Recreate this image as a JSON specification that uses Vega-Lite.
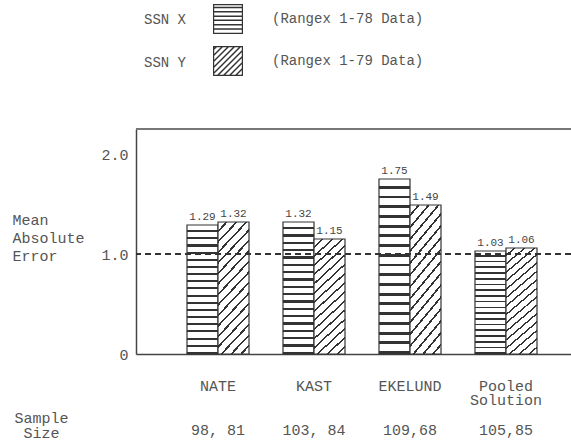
{
  "$schema": "https://vega.github.io/schema/vega-lite/v6.json",
  "width": 435,
  "height": 225,
  "autosize": "none",
  "padding": {"left": 136, "top": 129, "right": 0, "bottom": 88},
  "background": "white",
  "config": {"view": {"stroke": null}, "font": "Liberation Mono"},
  "data": {"values": [
    {"method": "NATE", "series": "SSN X", "desc": "(Rangex 1-78 Data)", "mae": 1.29},
    {"method": "NATE", "series": "SSN Y", "desc": "(Rangex 1-79 Data)", "mae": 1.32},
    {"method": "KAST", "series": "SSN X", "desc": "(Rangex 1-78 Data)", "mae": 1.32},
    {"method": "KAST", "series": "SSN Y", "desc": "(Rangex 1-79 Data)", "mae": 1.15},
    {"method": "EKELUND", "series": "SSN X", "desc": "(Rangex 1-78 Data)", "mae": 1.75},
    {"method": "EKELUND", "series": "SSN Y", "desc": "(Rangex 1-79 Data)", "mae": 1.49},
    {"method": "Pooled Solution", "series": "SSN X", "desc": "(Rangex 1-78 Data)", "mae": 1.03},
    {"method": "Pooled Solution", "series": "SSN Y", "desc": "(Rangex 1-79 Data)", "mae": 1.06}
  ]},
  "layer": [
    {
      "mark": {"type": "bar", "stroke": "#333333", "strokeWidth": 1.2},
      "encoding": {
        "x": {"field": "method", "type": "nominal", "sort": ["NATE", "KAST", "EKELUND", "Pooled Solution"],
          "scale": {"paddingInner": 0.354, "paddingOuter": 0.4427, "align": 0.6},
          "axis": {
            "title": ["Sample", "Size"], "titleX": -95, "titleY": 68, "titleAlign": "center", "titleBaseline": "alphabetic", "titleAngle": 0,
            "titleFontSize": 15, "titleFontWeight": "normal", "titleLineHeight": 15.5, "titleColor": "#555555",
            "labelAngle": 0, "labelFontSize": 15, "labelLineHeight": 14.7, "labelBaseline": "top", "labelPadding": 24, "labelColor": "#555555",
            "labelOverlap": false, "labelBound": false,
            "ticks": false, "domainColor": "#444444", "domainWidth": 1.5,
            "labelExpr": "datum.value === 'NATE' ? ['NATE', '\u200b', '\u200b', '98, 81'] : datum.value === 'KAST' ? ['KAST', '\u200b', '\u200b', '103, 84'] : datum.value === 'EKELUND' ? ['EKELUND', '\u200b', '\u200b', '109,68'] : ['Pooled', 'Solution', '\u200b', '105,85']"
          }},
        "xOffset": {"field": "series", "type": "nominal"},
        "y": {"field": "mae", "type": "quantitative", "scale": {"domain": [0, 2.25], "nice": false},
          "axis": {
            "values": [0, 1, 2], "labelExpr": "datum.value === 0 ? '0' : format(datum.value, '.1f')",
            "grid": false, "ticks": false,
            "labelFontSize": 15, "labelPadding": 8, "labelColor": "#555555",
            "domainColor": "#444444", "domainWidth": 1.5,
            "title": ["Mean", "Absolute", "Error"], "titleAngle": 0, "titleAlign": "left", "titleBaseline": "alphabetic",
            "titleX": -124, "titleY": 95, "titleFontSize": 15, "titleFontWeight": "normal", "titleLineHeight": 18, "titleColor": "#555555"
          }},
        "strokeDash": {"field": "series", "type": "nominal", "scale": {"range": [[1, 0], [1, 0]]},
          "legend": {"orient": "none", "legendX": -30, "legendY": -125, "title": null, "direction": "vertical",
            "symbolType": "square", "symbolSize": 900, "symbolOpacity": 0,
            "labelFontSize": 14, "labelOffset": 6, "rowPadding": 12, "padding": 0, "labelColor": "#555555"}},
        "fill": {
          "condition": {"test": "datum.series === 'SSN X'", "value": {"gradient": "linear", "x1": 0, "y1": 0, "x2": 0, "y2": 1, "stops": [
            {"offset": 0, "color": "#ffffff"},
            {"offset": 0.0389, "color": "#ffffff"}, {"offset": 0.0389, "color": "#333333"}, {"offset": 0.0556, "color": "#333333"}, {"offset": 0.0556, "color": "#ffffff"},
            {"offset": 0.0944, "color": "#ffffff"}, {"offset": 0.0944, "color": "#333333"}, {"offset": 0.1111, "color": "#333333"}, {"offset": 0.1111, "color": "#ffffff"},
            {"offset": 0.15, "color": "#ffffff"}, {"offset": 0.15, "color": "#333333"}, {"offset": 0.1667, "color": "#333333"}, {"offset": 0.1667, "color": "#ffffff"},
            {"offset": 0.2056, "color": "#ffffff"}, {"offset": 0.2056, "color": "#333333"}, {"offset": 0.2222, "color": "#333333"}, {"offset": 0.2222, "color": "#ffffff"},
            {"offset": 0.2611, "color": "#ffffff"}, {"offset": 0.2611, "color": "#333333"}, {"offset": 0.2778, "color": "#333333"}, {"offset": 0.2778, "color": "#ffffff"},
            {"offset": 0.3167, "color": "#ffffff"}, {"offset": 0.3167, "color": "#333333"}, {"offset": 0.3333, "color": "#333333"}, {"offset": 0.3333, "color": "#ffffff"},
            {"offset": 0.3722, "color": "#ffffff"}, {"offset": 0.3722, "color": "#333333"}, {"offset": 0.3889, "color": "#333333"}, {"offset": 0.3889, "color": "#ffffff"},
            {"offset": 0.4278, "color": "#ffffff"}, {"offset": 0.4278, "color": "#333333"}, {"offset": 0.4444, "color": "#333333"}, {"offset": 0.4444, "color": "#ffffff"},
            {"offset": 0.4833, "color": "#ffffff"}, {"offset": 0.4833, "color": "#333333"}, {"offset": 0.5, "color": "#333333"}, {"offset": 0.5, "color": "#ffffff"},
            {"offset": 0.5389, "color": "#ffffff"}, {"offset": 0.5389, "color": "#333333"}, {"offset": 0.5556, "color": "#333333"}, {"offset": 0.5556, "color": "#ffffff"},
            {"offset": 0.5944, "color": "#ffffff"}, {"offset": 0.5944, "color": "#333333"}, {"offset": 0.6111, "color": "#333333"}, {"offset": 0.6111, "color": "#ffffff"},
            {"offset": 0.65, "color": "#ffffff"}, {"offset": 0.65, "color": "#333333"}, {"offset": 0.6667, "color": "#333333"}, {"offset": 0.6667, "color": "#ffffff"},
            {"offset": 0.7056, "color": "#ffffff"}, {"offset": 0.7056, "color": "#333333"}, {"offset": 0.7222, "color": "#333333"}, {"offset": 0.7222, "color": "#ffffff"},
            {"offset": 0.7611, "color": "#ffffff"}, {"offset": 0.7611, "color": "#333333"}, {"offset": 0.7778, "color": "#333333"}, {"offset": 0.7778, "color": "#ffffff"},
            {"offset": 0.8167, "color": "#ffffff"}, {"offset": 0.8167, "color": "#333333"}, {"offset": 0.8333, "color": "#333333"}, {"offset": 0.8333, "color": "#ffffff"},
            {"offset": 0.8722, "color": "#ffffff"}, {"offset": 0.8722, "color": "#333333"}, {"offset": 0.8889, "color": "#333333"}, {"offset": 0.8889, "color": "#ffffff"},
            {"offset": 0.9278, "color": "#ffffff"}, {"offset": 0.9278, "color": "#333333"}, {"offset": 0.9444, "color": "#333333"}, {"offset": 0.9444, "color": "#ffffff"},
            {"offset": 0.9833, "color": "#ffffff"}, {"offset": 0.9833, "color": "#333333"}, {"offset": 1, "color": "#333333"}
          ]}},
          "value": {"gradient": "linear", "x1": 0, "y1": 0, "x2": 0.3, "y2": 1.2, "stops": [
            {"offset": 0, "color": "#ffffff"},
            {"offset": 0.0488, "color": "#ffffff"}, {"offset": 0.0488, "color": "#333333"}, {"offset": 0.0625, "color": "#333333"}, {"offset": 0.0625, "color": "#ffffff"},
            {"offset": 0.1113, "color": "#ffffff"}, {"offset": 0.1113, "color": "#333333"}, {"offset": 0.125, "color": "#333333"}, {"offset": 0.125, "color": "#ffffff"},
            {"offset": 0.1738, "color": "#ffffff"}, {"offset": 0.1738, "color": "#333333"}, {"offset": 0.1875, "color": "#333333"}, {"offset": 0.1875, "color": "#ffffff"},
            {"offset": 0.2363, "color": "#ffffff"}, {"offset": 0.2363, "color": "#333333"}, {"offset": 0.25, "color": "#333333"}, {"offset": 0.25, "color": "#ffffff"},
            {"offset": 0.2988, "color": "#ffffff"}, {"offset": 0.2988, "color": "#333333"}, {"offset": 0.3125, "color": "#333333"}, {"offset": 0.3125, "color": "#ffffff"},
            {"offset": 0.3613, "color": "#ffffff"}, {"offset": 0.3613, "color": "#333333"}, {"offset": 0.375, "color": "#333333"}, {"offset": 0.375, "color": "#ffffff"},
            {"offset": 0.4238, "color": "#ffffff"}, {"offset": 0.4238, "color": "#333333"}, {"offset": 0.4375, "color": "#333333"}, {"offset": 0.4375, "color": "#ffffff"},
            {"offset": 0.4863, "color": "#ffffff"}, {"offset": 0.4863, "color": "#333333"}, {"offset": 0.5, "color": "#333333"}, {"offset": 0.5, "color": "#ffffff"},
            {"offset": 0.5488, "color": "#ffffff"}, {"offset": 0.5488, "color": "#333333"}, {"offset": 0.5625, "color": "#333333"}, {"offset": 0.5625, "color": "#ffffff"},
            {"offset": 0.6113, "color": "#ffffff"}, {"offset": 0.6113, "color": "#333333"}, {"offset": 0.625, "color": "#333333"}, {"offset": 0.625, "color": "#ffffff"},
            {"offset": 0.6738, "color": "#ffffff"}, {"offset": 0.6738, "color": "#333333"}, {"offset": 0.6875, "color": "#333333"}, {"offset": 0.6875, "color": "#ffffff"},
            {"offset": 0.7363, "color": "#ffffff"}, {"offset": 0.7363, "color": "#333333"}, {"offset": 0.75, "color": "#333333"}, {"offset": 0.75, "color": "#ffffff"},
            {"offset": 0.7988, "color": "#ffffff"}, {"offset": 0.7988, "color": "#333333"}, {"offset": 0.8125, "color": "#333333"}, {"offset": 0.8125, "color": "#ffffff"},
            {"offset": 0.8613, "color": "#ffffff"}, {"offset": 0.8613, "color": "#333333"}, {"offset": 0.875, "color": "#333333"}, {"offset": 0.875, "color": "#ffffff"},
            {"offset": 0.9238, "color": "#ffffff"}, {"offset": 0.9238, "color": "#333333"}, {"offset": 0.9375, "color": "#333333"}, {"offset": 0.9375, "color": "#ffffff"},
            {"offset": 0.9863, "color": "#ffffff"}, {"offset": 0.9863, "color": "#333333"}, {"offset": 1, "color": "#333333"}
          ]}
        }
      }
    },
    {
      "mark": {"type": "point", "filled": true, "color": "#333333", "size": 0},
      "encoding": {
        "x": {"field": "method", "type": "nominal", "sort": ["NATE", "KAST", "EKELUND", "Pooled Solution"]},
        "xOffset": {"field": "series", "type": "nominal"},
        "y": {"field": "mae", "type": "quantitative"},
        "shape": {"field": "desc", "type": "nominal", "scale": {"range": [
            "M-1,-1H1V1H-1Z M-0.92,-0.92V0.92H0.92V-0.92Z M-1,-0.81H1V-0.71H-1Z M-1,-0.53H1V-0.43H-1Z M-1,-0.24H1V-0.14H-1Z M-1,0.04H1V0.14H-1Z M-1,0.33H1V0.43H-1Z M-1,0.61H1V0.71H-1Z",
            "M-1,-1H1V1H-1Z M-0.92,-0.92V0.92H0.92V-0.92Z M-1,-0.8L-0.8,-1L-0.66,-1L-1,-0.66Z M-1,-0.4L-0.4,-1L-0.26,-1L-1,-0.26Z M-1,0L0,-1L0.14,-1L-1,0.14Z M-1,0.4L0.4,-1L0.54,-1L-1,0.54Z M-1,0.8L0.8,-1L0.94,-1L-1,0.94Z M-0.8,1L1,-0.8L1,-0.66L-0.66,1Z M-0.4,1L1,-0.4L1,-0.26L-0.26,1Z M0,1L1,0L1,0.14L0.14,1Z M0.4,1L1,0.4L1,0.54L0.54,1Z M0.8,1L1,0.8L1,0.94L0.94,1Z"
          ]},
          "legend": {"orient": "none", "legendX": 77, "legendY": -125, "title": null, "direction": "vertical",
            "symbolSize": 900, "symbolFillColor": "#333333", "symbolStrokeWidth": 0, "symbolOpacity": 1,
            "labelFontSize": 14, "labelOffset": 29, "rowPadding": 12, "padding": 0, "labelColor": "#555555"}}
      }
    },
    {
      "mark": {"type": "text", "fontSize": 11, "baseline": "bottom", "dy": -3, "color": "#444444"},
      "encoding": {
        "x": {"field": "method", "type": "nominal", "sort": ["NATE", "KAST", "EKELUND", "Pooled Solution"]},
        "xOffset": {"field": "series", "type": "nominal"},
        "y": {"field": "mae", "type": "quantitative"},
        "text": {"field": "mae", "type": "quantitative", "format": ".2f"}
      }
    },
    {
      "mark": {"type": "rule", "color": "#333333", "strokeWidth": 1.2, "strokeDash": [6, 4]},
      "encoding": {"y": {"datum": 1}}
    },
    {
      "mark": {"type": "rule", "color": "#777777", "strokeWidth": 1.5},
      "encoding": {"y": {"datum": 2.25}}
    }
  ]
}
